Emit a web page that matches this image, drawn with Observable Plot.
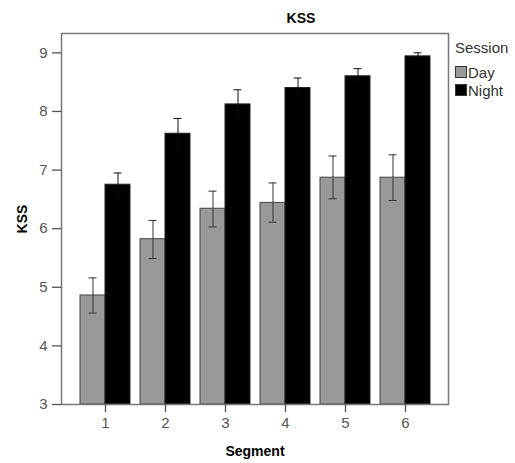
<!DOCTYPE html>
<html>
<head>
<meta charset="utf-8">
<script src="https://cdn.jsdelivr.net/npm/d3@7"></script>
<script src="https://cdn.jsdelivr.net/npm/@observablehq/plot@0.6"></script>
<style>
  html, body { margin: 0; padding: 0; background: white; }
  #wrap { position: relative; width: 515px; height: 463px; font-family: "Liberation Sans", Arial, sans-serif; }
  .lbl { position: absolute; font-weight: bold; color: #000; font-size: 14px; white-space: nowrap; }
  #legend { position: absolute; left: 455px; top: 39px; font-size: 15px; color: #333; }
  #legend .row { display: flex; align-items: center; height: 18px; }
  #legend .sw { width: 12px; height: 12px; border: 1px solid #333; margin-right: 1px; box-sizing: border-box; }
</style>
</head>
<body>
<div id="wrap"></div>
<script>
const title = "KSS";
const xLabel = "Segment";
const yLabel = "KSS";
const legendTitle = "Session";
const sessions = ["Day", "Night"];
const sessionColors = ["#999999", "#000000"];
const segments = [1, 2, 3, 4, 5, 6];
const dayMean  = [4.86, 5.82, 6.34, 6.44, 6.87, 6.87];
const dayUpper = [5.16, 6.14, 6.64, 6.78, 7.24, 7.26];
const dayLower = [4.56, 5.49, 6.03, 6.11, 6.51, 6.48];
const nightMean  = [6.75, 7.62, 8.12, 8.40, 8.60, 8.94];
const nightUpper = [6.95, 7.88, 8.37, 8.57, 8.73, 9.00];
const nightLower = [6.55, 7.36, 7.87, 8.23, 8.47, 8.88];
const yTicks = [3, 4, 5, 6, 7, 8, 9];

const day = segments.map((s, i) => ({segment: s, session: "Day", mean: dayMean[i], lo: dayLower[i], hi: dayUpper[i]}));
const night = segments.map((s, i) => ({segment: s, session: "Night", mean: nightMean[i], lo: nightLower[i], hi: nightUpper[i]}));

const barW = 25;   // half band
const cap = 4;

const chart = Plot.plot({
  width: 515,
  height: 463,
  marginLeft: 61,
  marginRight: 67,
  marginTop: 33,
  marginBottom: 59,
  style: {fontFamily: "Liberation Sans, Arial, sans-serif", fontSize: "15px", color: "#555", background: "white"},
  x: {type: "band", domain: segments, paddingInner: 0.167, paddingOuter: 0.306, label: null},
  y: {domain: [3, 9.33], label: null},
  color: {domain: sessions, range: sessionColors},
  marks: [
    Plot.barY(day, {x: "segment", y1: 3, y2: "mean", fill: "session", stroke: "#444", strokeWidth: 1, insetRight: barW}),
    Plot.barY(night, {x: "segment", y1: 3, y2: "mean", fill: "session", stroke: "#222", strokeWidth: 1, insetLeft: barW}),
    Plot.ruleX(day, {x: "segment", y1: "lo", y2: "hi", dx: -barW / 2, stroke: "#333", strokeWidth: 1}),
    Plot.ruleX(night, {x: "segment", y1: "lo", y2: "hi", dx: barW / 2, stroke: "#111", strokeWidth: 1}),
    Plot.tickY(day, {x: "segment", y: "hi", stroke: "#333", insetLeft: barW / 2 - cap, insetRight: barW * 1.5 - cap}),
    Plot.tickY(day, {x: "segment", y: "lo", stroke: "#333", insetLeft: barW / 2 - cap, insetRight: barW * 1.5 - cap}),
    Plot.tickY(night, {x: "segment", y: "hi", stroke: "#111", insetLeft: barW * 1.5 - cap, insetRight: barW / 2 - cap}),
    Plot.frame({stroke: "#777", strokeWidth: 1.5}),
    Plot.axisY({ticks: yTicks, tickSize: 9, tickPadding: 5, tickFormat: d => d, stroke: "#555", strokeWidth: 1.3, fontSize: 15, label: null}),
    Plot.axisX({tickSize: 8, tickPadding: 5, stroke: "#555", strokeWidth: 1.3, fontSize: 15, label: null})
  ]
});

const wrap = document.getElementById("wrap");
wrap.appendChild(chart);

function addLabel(text, css) {
  const d = document.createElement("div");
  d.className = "lbl";
  d.textContent = text;
  Object.assign(d.style, css);
  wrap.appendChild(d);
  return d;
}
addLabel(title, {left: "301px", top: "10px", transform: "translateX(-50%)"});
addLabel(xLabel, {left: "255px", top: "443px", transform: "translateX(-50%)"});
addLabel(yLabel, {left: "22px", top: "219px", transform: "translate(-50%, -50%) rotate(-90deg)"});

const lg = document.createElement("div");
lg.id = "legend";
const t = document.createElement("div");
t.textContent = legendTitle;
t.style.marginBottom = "7px";
lg.appendChild(t);
sessions.forEach((s, i) => {
  const r = document.createElement("div");
  r.className = "row";
  const sw = document.createElement("span");
  sw.className = "sw";
  sw.style.background = sessionColors[i];
  r.appendChild(sw);
  const tx = document.createElement("span");
  tx.textContent = s;
  r.appendChild(tx);
  lg.appendChild(r);
});
wrap.appendChild(lg);
</script>
</body>
</html>
